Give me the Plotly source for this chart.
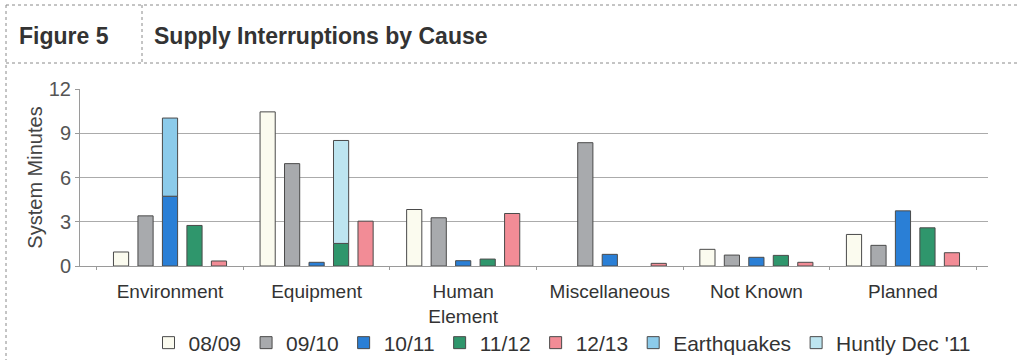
import plotly.graph_objects as go

# Causes of supply interruptions (x categories)
causes = ["Environment", "Equipment", "Human<br>Element", "Miscellaneous", "Not Known", "Planned"]

# System minutes by year
y0809 = [0.95, 10.45, 3.83, None, 1.13, 2.14]
y0910 = [3.40, 6.94, 3.27, 8.36, 0.74, 1.40]
y1011 = [4.73, 0.25, 0.36, 0.79, 0.59, 3.74]
y1112 = [2.75, 1.53, 0.47, None, 0.72, 2.59]
y1213 = [0.34, 3.04, 3.56, 0.18, 0.25, 0.90]

# Major events stacked on top of their year's bar
earthquakes = [5.30, None, None, None, None, None]   # on top of 10/11
huntly_dec11 = [None, 6.98, None, None, None, None]  # on top of 11/12

yticks = [0, 3, 6, 9, 12]

FONT = "Liberation Sans, Arial, sans-serif"
EDGE = "#4a4a4a"

# plot area in pixels (used to place frame lines and header text)
L, R, T, B = 80, 988, 89, 266
W_PX, H_PX = 1019, 360


def px_x(px):
    return (px - L) / (R - L)


def px_y(py):
    return (B - py) / (B - T)


fig = go.Figure()

series = [
    ("08/09", y0809, "#fbfbef", "a", None),
    ("09/10", y0910, "#a8aaad", "b", None),
    ("10/11", y1011, "#2a7fd6", "c", None),
    ("11/12", y1112, "#2f966c", "d", None),
    ("12/13", y1213, "#f28c96", "e", None),
    ("Earthquakes", earthquakes, "#8ccbea", "c", y1011),
    ("Huntly Dec '11", huntly_dec11, "#bde5f0", "d", y1112),
]

for name, vals, color, grp, base in series:
    fig.add_trace(go.Bar(
        name=name,
        x=causes,
        y=vals,
        base=base,
        offsetgroup=grp,
        marker=dict(color=color, line=dict(color=EDGE, width=1)),
    ))

fig.update_layout(
    width=W_PX,
    height=H_PX,
    margin=dict(l=L, r=W_PX - R, t=T, b=H_PX - B, autoexpand=False),
    paper_bgcolor="white",
    plot_bgcolor="white",
    barmode="group",
    bargap=0.165,
    bargroupgap=0.38,
    font=dict(family=FONT, color="#333333"),
    showlegend=True,
    legend=dict(
        orientation="h",
        x=px_x(562), xanchor="center",
        y=px_y(343), yanchor="middle",
        font=dict(size=21, color="#333333"),
        traceorder="normal",
        itemwidth=30,
        bgcolor="rgba(0,0,0,0)",
    ),
    xaxis=dict(
        type="category",
        range=[-0.614, 5.58],
        automargin=False,
        showline=True, linecolor="#9a9a9a", linewidth=1,
        ticks="outside", tickson="boundaries", ticklen=3, tickcolor="#9a9a9a",
        ticklabelstandoff=8,
        tickfont=dict(size=19, color="#333333"),
        showgrid=False,
        zeroline=False,
    ),
    yaxis=dict(
        range=[0, 12],
        tickvals=yticks,
        automargin=False,
        showline=True, linecolor="#9a9a9a", linewidth=1,
        ticks="outside", ticklen=4, tickcolor="#9a9a9a",
        tickfont=dict(size=20, color="#555555"),
        showgrid=True, gridcolor="#ababab", gridwidth=1,
        zeroline=False,
        title=dict(text="System Minutes", font=dict(size=20, color="#444444"), standoff=0),
    ),
)

# table-style frame around the figure
frame = dict(color="#8a8a8a", width=1, dash="dot")
lines = [
    (6, 5, W_PX, 5),       # top border
    (6, 63, W_PX, 63),     # header divider
    (6, 5, 6, H_PX),       # left border
    (142, 5, 142, 63),     # cell divider in header
]
for x0, y0, x1, y1 in lines:
    fig.add_shape(type="line", xref="paper", yref="paper",
                  x0=px_x(x0), y0=px_y(y0), x1=px_x(x1), y1=px_y(y1),
                  line=frame, layer="above")

fig.add_annotation(text="<b>Figure 5</b>", xref="paper", yref="paper",
                   x=px_x(17), y=px_y(36), xanchor="left", yanchor="middle",
                   showarrow=False, font=dict(size=23, color="#333333", family=FONT))
fig.add_annotation(text="<b>Supply Interruptions by Cause</b>", xref="paper", yref="paper",
                   x=px_x(152), y=px_y(36), xanchor="left", yanchor="middle",
                   showarrow=False, font=dict(size=23, color="#333333", family=FONT))

fig.write_html("out.html")
